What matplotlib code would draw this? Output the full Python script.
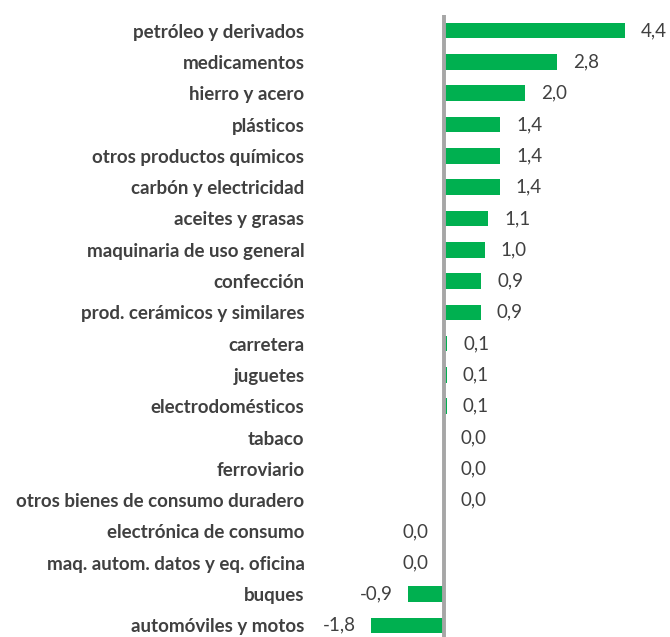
import matplotlib
matplotlib.use("Agg")
import matplotlib.pyplot as plt

categories = [
    "petróleo y derivados",
    "medicamentos",
    "hierro y acero",
    "plásticos",
    "otros productos químicos",
    "carbón y electricidad",
    "aceites y grasas",
    "maquinaria de uso general",
    "confección",
    "prod. cerámicos y similares",
    "carretera",
    "juguetes",
    "electrodomésticos",
    "tabaco",
    "ferroviario",
    "otros bienes de consumo duradero",
    "electrónica de consumo",
    "maq. autom. datos y eq. oficina",
    "buques",
    "automóviles y motos",
]
values = [4.44, 2.78, 1.99, 1.38, 1.38, 1.36, 1.08, 1.0, 0.91, 0.9,
          0.08, 0.06, 0.06, 0.01, 0.01, 0.01, -0.01, -0.02, -0.88, -1.8]

W, H = 670, 637
fig = plt.figure(figsize=(W / 100, H / 100), dpi=100)
# plot area in pixels: left 310, right 670, top 15, bottom 641
ax = fig.add_axes([310 / W, (H - 641) / H, 360 / W, 626 / H])

green = "#00B050"
text_col = "#404040"

pos = list(range(len(categories)))
ax.barh(pos, values, height=0.5, color=green, zorder=2)
ax.axvline(0, color="#A6A6A6", lw=2.8, zorder=3)

ax.set_xlim(-3.3, 5.55)
ax.set_ylim(len(categories) - 0.5, -0.5)

for i, v in enumerate(values):
    s = f"{abs(v):.1f}" if round(v, 1) == 0 else f"{v:.1f}"
    s = s.replace(".", ",")
    if v >= 0:
        ax.annotate(s, (v, i), xytext=(11.5, 0), textcoords="offset points",
                    ha="left", va="center", fontsize=13.5, color=text_col,
                    family="Lato")
    else:
        ax.annotate(s, (v, i), xytext=(-11, 0), textcoords="offset points",
                    ha="right", va="center", fontsize=13.5, color=text_col,
                    family="Lato")

ax.set_yticks(pos)
ax.set_yticklabels(categories, fontsize=13.5, fontweight="bold", color=text_col,
                   family="Lato")
ax.tick_params(axis="y", length=0, pad=4)
ax.set_xticks([])
for sp in ax.spines.values():
    sp.set_visible(False)

fig.savefig("out.png", dpi=100)
